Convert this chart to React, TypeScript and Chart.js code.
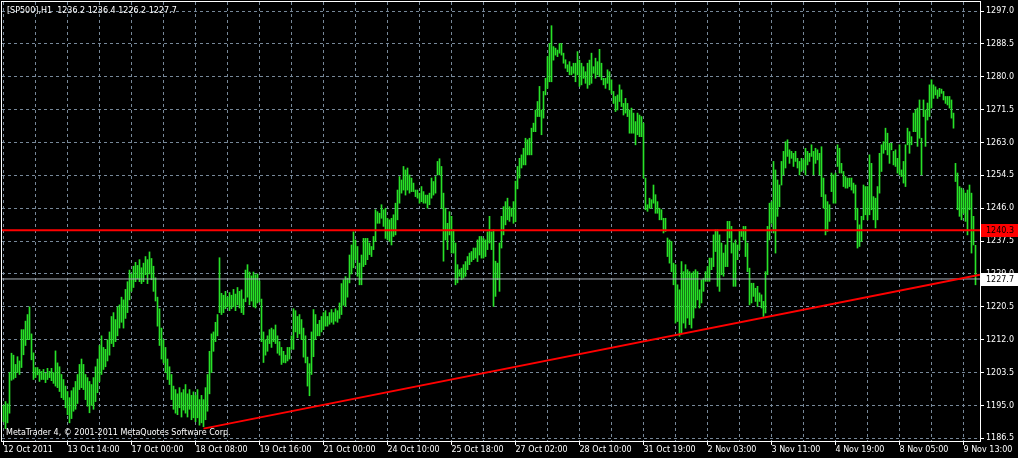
import React, { useEffect, useRef } from 'react';
import { Chart, registerables } from 'chart.js';

Chart.register(...registerables);

// ---------- data ----------
const symbolTitle = '[SP500],H1  1236.2 1236.4 1226.2 1227.7';
const copyrightText = 'MetaTrader 4, \u00a9 2001-2011 MetaQuotes Software Corp.';

// time labels, one every 32 hourly bars (starting with bar 0)
const timeLabels = [
  '12 Oct 2011', '13 Oct 14:00', '17 Oct 00:00', '18 Oct 08:00', '19 Oct 16:00',
  '21 Oct 00:00', '24 Oct 10:00', '25 Oct 18:00', '27 Oct 02:00', '28 Oct 10:00',
  '31 Oct 19:00', '2 Nov 03:00', '3 Nov 11:00', '4 Nov 19:00', '8 Nov 05:00', '9 Nov 13:00',
];
const barsPerLabel = 32;
const barsPerGrid = 16;

const priceTicks = [
  1186.5, 1195.0, 1203.5, 1212.0, 1220.5, 1229.0, 1237.5,
  1246.0, 1254.5, 1263.0, 1271.5, 1280.0, 1288.5, 1297.0,
];

// hourly bar highs
const highs = [
  1195.0,1196.0,1195.4,1203.5,1208.5,1208.0,1205.6,1207.6,1206.5,1214.6,
  1214.6,1216.8,1218.5,1220.5,1213.5,1208.6,1204.8,1204.8,1204.3,1203.8,
  1204.3,1203.3,1204.6,1203.8,1204.6,1203.5,1209.1,1206.0,1205.0,1203.0,
  1201.7,1200.0,1198.6,1197.0,1198.8,1199.6,1201.2,1203.0,1205.6,1207.0,
  1205.6,1203.0,1202.2,1201.2,1200.4,1202.2,1205.0,1207.0,1210.5,1213.0,
  1210.0,1209.5,1212.0,1214.0,1218.0,1219.0,1217.2,1220.5,1221.0,1223.0,
  1222.3,1225.0,1227.0,1230.0,1229.0,1231.0,1232.0,1231.2,1232.7,1230.6,
  1231.8,1233.5,1232.7,1234.7,1233.0,1231.0,1228.0,1223.0,1220.0,1215.0,
  1212.0,1210.0,1207.0,1205.0,1203.0,1200.0,1199.1,1198.0,1199.6,1198.3,
  1199.1,1200.4,1198.0,1199.1,1197.6,1198.5,1197.6,1199.1,1196.5,1197.6,
  1196.5,1199.6,1203.0,1209.0,1213.5,1214.0,1216.5,1218.5,1233.2,1224.0,
  1223.5,1224.5,1223.0,1224.2,1223.5,1225.0,1223.8,1225.5,1224.5,1224.9,
  1222.5,1230.0,1231.4,1229.5,1228.5,1229.5,1228.8,1229.0,1227.2,1222.5,
  1214.0,1212.0,1213.0,1214.6,1215.0,1214.6,1215.8,1213.0,1211.5,1210.0,
  1209.0,1208.0,1210.0,1210.0,1213.0,1220.0,1219.5,1218.0,1218.5,1217.2,
  1215.0,1213.0,1207.5,1205.8,1214.0,1219.8,1218.5,1216.0,1217.0,1218.0,
  1219.0,1219.5,1218.0,1219.0,1219.8,1219.0,1220.0,1219.5,1221.5,1226.5,
  1227.5,1228.3,1227.9,1233.9,1236.5,1239.9,1237.8,1236.1,1231.8,1233.9,
  1238.2,1238.2,1238.2,1237.0,1236.1,1238.7,1245.6,1245.1,1244.7,1246.9,
  1245.6,1246.0,1243.4,1243.0,1243.4,1244.3,1247.3,1250.7,1254.2,1253.3,
  1256.8,1255.9,1256.4,1254.6,1253.8,1252.5,1250.7,1250.7,1249.9,1251.6,
  1250.3,1249.4,1249.4,1249.9,1253.8,1252.9,1254.2,1258.1,1258.8,1256.8,
  1249.9,1246.0,1242.1,1245.1,1243.9,1240.4,1237.0,1231.4,1230.1,1230.5,
  1231.4,1232.2,1233.5,1234.4,1234.8,1235.7,1235.7,1237.8,1238.7,1238.7,
  1238.2,1237.8,1239.9,1243.9,1239.9,1240.4,1232.3,1231.8,1237.0,1243.9,
  1246.4,1247.7,1248.6,1246.4,1246.0,1247.7,1253.0,1256.8,1258.9,1259.8,
  1261.5,1264.1,1263.7,1264.1,1266.7,1268.0,1271.4,1273.6,1277.5,1271.4,
  1276.2,1279.6,1285.2,1288.6,1293.2,1287.8,1287.4,1286.9,1288.6,1288.6,
  1286.1,1284.4,1283.1,1283.9,1282.6,1283.5,1283.5,1286.5,1284.3,1283.5,
  1282.6,1281.3,1283.5,1284.3,1286.1,1282.6,1284.8,1283.9,1287.1,1283.5,
  1279.6,1279.6,1281.8,1281.3,1279.2,1276.2,1274.9,1275.3,1277.9,1276.6,
  1273.1,1274.4,1273.1,1271.4,1271.9,1270.6,1268.4,1270.6,1270.1,1269.7,
  1268.0,1253.8,1246.9,1248.6,1248.2,1252.0,1249.5,1247.7,1246.0,1245.6,
  1243.4,1243.4,1238.3,1237.8,1237.4,1231.8,1231.4,1226.2,1224.9,1232.2,
  1229.6,1231.4,1230.1,1229.6,1229.2,1229.6,1230.1,1229.6,1224.9,1227.5,
  1227.9,1229.6,1230.9,1233.1,1233.1,1239.1,1240.4,1240.4,1239.1,1237.0,
  1234.4,1236.5,1242.6,1242.6,1241.3,1237.0,1237.8,1236.5,1240.4,1240.4,
  1241.3,1241.3,1237.0,1230.5,1226.6,1226.6,1225.3,1225.8,1224.1,1223.6,
  1221.9,1229.6,1241.3,1247.3,1247.7,1258.1,1255.9,1253.3,1252.0,1258.1,
  1260.7,1263.2,1263.7,1261.1,1260.7,1260.2,1260.7,1258.9,1258.1,1258.9,
  1258.5,1261.5,1260.7,1260.2,1262.4,1260.7,1261.5,1261.1,1260.2,1261.9,
  1253.8,1249.5,1247.7,1246.9,1255.1,1254.6,1255.1,1262.4,1261.5,1257.6,
  1255.5,1254.2,1253.8,1253.8,1253.8,1252.5,1252.0,1246.0,1241.7,1243.9,
  1252.0,1251.6,1251.6,1259.8,1257.6,1249.0,1248.6,1251.6,1260.2,1262.4,
  1263.2,1266.7,1265.4,1262.8,1262.8,1260.7,1261.1,1258.9,1262.4,1255.9,
  1258.1,1262.4,1266.7,1265.8,1264.5,1270.6,1271.4,1271.9,1274.0,1264.1,
  1274.0,1271.4,1273.2,1277.9,1279.2,1277.9,1277.4,1276.6,1277.0,1276.8,
  1276.2,1274.9,1274.9,1274.9,1274.0,1270.6,1257.6,1255.1,1251.6,1251.2,
  1250.7,1249.9,1250.7,1252.0,1249.9,1243.9,1236.4,
];

// hourly bar lows
const lows = [
  1190.8,1189.0,1190.5,1193.0,1201.5,1201.8,1202.2,1203.5,1203.0,1204.8,
  1208.1,1210.5,1212.0,1212.0,1206.8,1201.7,1202.2,1202.9,1201.2,1201.7,
  1201.7,1200.9,1201.7,1202.2,1201.4,1200.7,1200.0,1199.6,1198.6,1197.0,
  1196.5,1194.4,1192.6,1190.5,1191.6,1193.5,1194.0,1195.5,1199.1,1199.6,
  1199.1,1196.5,1194.8,1193.1,1195.0,1194.0,1196.0,1198.3,1201.2,1203.0,
  1204.3,1205.0,1206.5,1208.0,1211.0,1210.2,1211.5,1213.0,1215.0,1216.5,
  1215.0,1217.5,1219.0,1222.3,1224.5,1225.5,1227.0,1227.8,1227.0,1226.5,
  1227.0,1228.8,1226.5,1229.0,1227.5,1224.5,1222.0,1215.5,1210.5,1207.0,
  1206.0,1203.5,1201.7,1200.4,1196.5,1194.0,1193.0,1192.6,1194.4,1192.0,
  1193.8,1193.0,1192.0,1194.0,1191.3,1191.8,1190.8,1191.8,1189.9,1190.5,
  1189.5,1191.3,1193.5,1198.0,1203.5,1209.0,1211.5,1213.0,1219.0,1218.5,
  1219.0,1220.0,1220.5,1219.5,1220.0,1220.5,1219.5,1221.0,1220.2,1219.0,
  1218.5,1221.8,1223.0,1221.0,1222.0,1220.5,1220.2,1221.5,1221.8,1211.5,
  1206.1,1208.0,1209.0,1211.0,1210.0,1211.5,1211.0,1208.5,1208.0,1205.6,
  1206.1,1206.0,1206.5,1207.0,1209.5,1209.5,1214.0,1212.5,1213.5,1212.0,
  1207.5,1206.0,1200.0,1197.5,1203.0,1207.6,1212.0,1213.0,1213.0,1214.0,
  1214.6,1215.5,1215.5,1216.0,1216.5,1216.0,1216.8,1216.5,1217.5,1218.5,
  1220.9,1220.6,1223.0,1226.7,1229.0,1230.6,1232.7,1228.4,1226.2,1226.2,
  1230.9,1231.4,1232.7,1234.0,1233.5,1235.3,1237.4,1242.1,1242.1,1243.4,
  1241.3,1238.2,1237.8,1237.4,1236.5,1238.7,1239.1,1243.0,1247.3,1249.9,
  1250.7,1249.4,1250.7,1249.9,1250.3,1250.3,1249.0,1248.6,1247.3,1247.7,
  1247.3,1247.3,1246.0,1246.9,1248.6,1249.4,1249.9,1254.6,1254.6,1246.0,
  1232.3,1237.8,1235.3,1239.1,1234.4,1234.4,1226.2,1226.7,1228.4,1227.5,
  1227.9,1228.4,1230.1,1231.4,1232.2,1232.7,1233.1,1232.2,1233.9,1233.1,
  1233.1,1233.5,1235.3,1237.0,1235.3,1220.6,1223.2,1227.5,1224.5,1235.7,
  1239.1,1241.7,1243.0,1242.6,1243.9,1242.1,1242.5,1251.0,1253.8,1256.4,
  1257.2,1257.2,1259.8,1259.8,1259.8,1265.8,1265.8,1269.7,1269.7,1265.0,
  1269.3,1275.3,1277.0,1278.7,1278.7,1284.3,1285.6,1285.2,1286.1,1285.6,
  1283.5,1282.2,1281.3,1280.5,1280.5,1280.9,1278.7,1280.5,1277.5,1277.9,
  1279.6,1278.3,1277.0,1277.9,1278.3,1280.9,1279.6,1280.5,1280.0,1279.2,
  1277.9,1277.0,1278.3,1276.6,1275.7,1273.1,1271.0,1271.4,1273.6,1272.3,
  1270.1,1270.6,1269.7,1265.4,1265.4,1265.4,1262.4,1265.0,1264.5,1264.5,
  1253.8,1245.6,1245.2,1246.0,1246.0,1247.3,1244.7,1244.7,1243.0,1243.0,
  1239.6,1240.0,1233.5,1231.8,1229.6,1226.2,1216.3,1216.7,1212.9,1213.7,
  1216.3,1215.0,1217.6,1215.9,1215.0,1217.6,1220.2,1222.3,1220.2,1221.5,
  1224.5,1227.1,1227.1,1227.1,1230.1,1230.9,1234.8,1225.8,1224.5,1228.8,
  1228.4,1230.9,1230.9,1238.3,1234.4,1225.8,1225.8,1232.7,1235.3,1238.7,
  1237.8,1233.5,1229.6,1221.0,1221.5,1223.2,1221.9,1220.6,1221.9,1220.2,
  1218.0,1218.9,1228.8,1237.8,1242.1,1239.6,1234.4,1243.9,1246.4,1252.0,
  1254.6,1256.4,1259.4,1257.6,1258.9,1256.8,1258.1,1256.4,1254.6,1255.5,
  1255.9,1254.6,1257.2,1258.1,1259.4,1254.6,1257.6,1258.5,1254.6,1249.0,
  1246.0,1239.1,1240.0,1242.6,1250.3,1247.3,1247.3,1256.8,1255.1,1255.1,
  1251.6,1251.2,1251.2,1251.6,1250.7,1249.9,1243.0,1235.7,1236.1,1237.4,
  1243.0,1244.3,1243.0,1244.3,1245.6,1243.0,1240.9,1243.0,1249.9,1255.5,
  1260.2,1261.1,1259.8,1257.6,1261.1,1257.2,1256.8,1255.1,1254.6,1254.2,
  1252.5,1251.6,1262.4,1260.2,1262.4,1265.8,1265.8,1262.0,1264.1,1254.6,
  1269.7,1262.0,1268.8,1269.7,1271.9,1274.4,1275.3,1274.4,1274.9,1275.7,
  1274.0,1273.1,1272.7,1271.9,1269.3,1266.7,1252.9,1245.6,1243.9,1243.0,
  1244.7,1242.6,1239.1,1245.6,1234.4,1236.5,1226.2,
];

// trend line anchors (bar index, price) and horizontal levels
const trendBars = [100, 488.25];
const trendPrices = [1189.0, 1228.8];
const resistanceLevel = 1240.3;
const bidLevel = 1227.7;

// ---------- chart ----------
const X_MIN = -0.75;
const X_MAX = 488.25;
const Y_MIN = 1185.8;
const Y_MAX = 1299.33;

const BAR_COLOR = 'rgb(40,225,40)';
const GRID_COLOR = '#778899';
const FONT_FAMILY = '"DejaVu Sans", Verdana, sans-serif';

export default function App() {
  const canvasRef = useRef<HTMLCanvasElement>(null);

  useEffect(() => {
    document.body.style.margin = '0';
    document.body.style.background = '#000';
    const canvas = canvasRef.current;
    if (!canvas) return;

    const overlay = {
      id: 'mtOverlay',
      afterDraw(chart: any) {
        const { ctx, chartArea: a, scales } = chart;
        const ys = scales.y;
        ctx.save();
        // frame
        ctx.strokeStyle = '#ffffff';
        ctx.lineWidth = 1;
        ctx.strokeRect(1.5, 1.5, a.right - 1, a.bottom - 1);
        // texts
        ctx.font = `8px ${FONT_FAMILY}`;
        ctx.textBaseline = 'middle';
        ctx.textAlign = 'left';
        ctx.fillStyle = '#ffffff';
        ctx.fillText(symbolTitle, 7, 11);
        ctx.fillText(copyrightText, 6, 433);
        // price boxes
        const drawBox = (value: number, bg: string) => {
          const py = Math.round(ys.getPixelForValue(value));
          ctx.fillStyle = bg;
          ctx.fillRect(a.right + 1, py - 6, 1018 - a.right - 1, 13);
          ctx.fillStyle = '#000000';
          ctx.fillText(value.toFixed(1), a.right + 6, py + 0.5);
        };
        drawBox(resistanceLevel, '#ff0000');
        drawBox(bidLevel, '#ffffff');
        ctx.restore();
      },
    };

    const chart = new Chart(canvas, {
      type: 'bar',
      data: {
        datasets: [
          {
            type: 'line',
            data: trendBars.map((x, i) => ({ x, y: trendPrices[i] })),
            borderColor: '#ff0000',
            borderWidth: 2,
            pointRadius: 0,
            order: 0,
          } as any,
          {
            type: 'line',
            data: [{ x: X_MIN, y: resistanceLevel }, { x: X_MAX, y: resistanceLevel }],
            borderColor: '#ff0000',
            borderWidth: 2,
            pointRadius: 0,
            order: 1,
          } as any,
          {
            type: 'line',
            data: [{ x: X_MIN, y: bidLevel }, { x: X_MAX, y: bidLevel }],
            borderColor: '#aab2bc',
            borderWidth: 1,
            pointRadius: 0,
            order: 2,
          } as any,
          {
            type: 'bar',
            data: highs.map((h, i) => ({ x: i, y: [lows[i], h] })),
            backgroundColor: BAR_COLOR,
            borderWidth: 0,
            barThickness: 1,
            grouped: false,
            order: 3,
          } as any,
        ],
      },
      options: {
        animation: false,
        responsive: false,
        devicePixelRatio: 1,
        events: [],
        layout: { padding: { left: 2, top: 2, right: 0, bottom: 0 } },
        plugins: {
          legend: { display: false },
          title: { display: false },
          tooltip: { enabled: false },
        },
        scales: {
          x: {
            type: 'linear',
            min: X_MIN,
            max: X_MAX,
            offset: false,
            afterBuildTicks: (axis: any) => {
              const t = [];
              for (let v = 0; v <= X_MAX; v += barsPerGrid) t.push({ value: v });
              axis.ticks = t;
            },
            afterFit: (axis: any) => {
              axis.height = 17;
              axis.paddingLeft = 0;
              axis.paddingRight = 0;
            },
            grid: {
              offset: false,
              color: GRID_COLOR,
              lineWidth: 1,
              drawTicks: true,
              tickLength: 4,
              tickColor: (c: any) => (c.index % 2 === 0 ? '#ffffff' : 'rgba(0,0,0,0)'),
            },
            border: { display: true, color: '#ffffff', width: 1, dash: [3, 3] },
            ticks: {
              autoSkip: false,
              maxRotation: 0,
              minRotation: 0,
              align: 'start',
              padding: 0,
              color: '#ffffff',
              font: { family: FONT_FAMILY, size: 8 },
              callback: (value: any) => {
                const k = Number(value) / barsPerLabel;
                return Number.isInteger(k) && timeLabels[k] ? timeLabels[k] : '';
              },
            },
          } as any,
          y: {
            type: 'linear',
            position: 'right',
            min: Y_MIN,
            max: Y_MAX,
            beginAtZero: false,
            afterBuildTicks: (axis: any) => {
              axis.ticks = priceTicks.map((v) => ({ value: v }));
            },
            afterFit: (axis: any) => {
              axis.width = 38;
              axis.paddingTop = 0;
              axis.paddingBottom = 0;
            },
            grid: {
              color: GRID_COLOR,
              lineWidth: 1,
              tickLength: 4,
              tickColor: '#ffffff',
            },
            border: { display: true, color: '#ffffff', width: 1, dash: [3, 3] },
            ticks: {
              padding: 2,
              color: '#ffffff',
              font: { family: FONT_FAMILY, size: 8 },
              callback: (value: any) => Number(value).toFixed(1),
            },
          } as any,
        },
      },
      plugins: [overlay],
    } as any);

    return () => chart.destroy();
  }, []);

  return (
    <div style={{ width: 1018, height: 458, background: '#000' }}>
      <canvas ref={canvasRef} width={1018} height={458} style={{ display: 'block' }} />
    </div>
  );
}
